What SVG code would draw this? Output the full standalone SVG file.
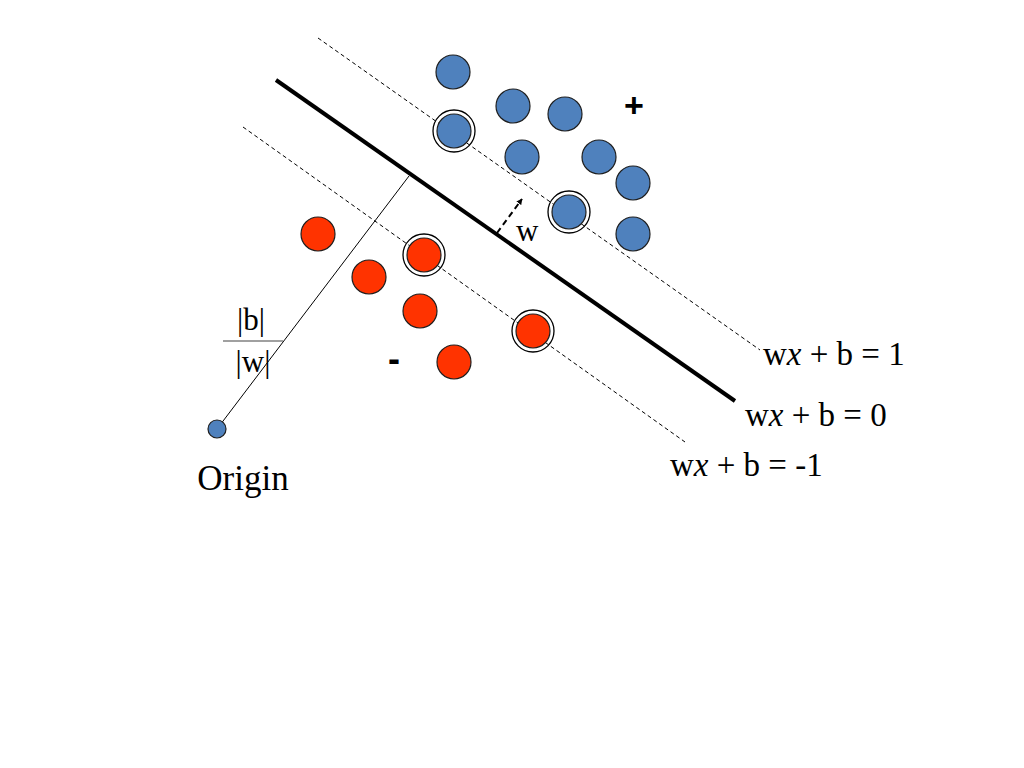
<svg xmlns="http://www.w3.org/2000/svg" width="1024" height="768" viewBox="0 0 1024 768">
<style>
.t{font-family:"Liberation Serif","Times New Roman",serif;font-size:31px;fill:#000}
.eq{font-size:33px}
.org{font-size:35px}
.pos{fill:#4f81bd;stroke:#1f1f1f;stroke-width:1.2}
.neg{fill:#ff3300;stroke:#1f1f1f;stroke-width:1.2}
.ring{fill:none;stroke:#000;stroke-width:1.3}
.dash{stroke:#000;stroke-width:1;stroke-dasharray:4,3;fill:none}
</style>
<defs>
<marker id="ah" viewBox="0 0 10 10" refX="9" refY="5" markerWidth="6" markerHeight="6" orient="auto" markerUnits="userSpaceOnUse">
<path d="M0,0 L10,5 L0,10 z" fill="#000"/>
</marker>
</defs>
<rect width="1024" height="768" fill="#fff"/>
<g id="connectors">
<line class="dash" x1="318" y1="38" x2="760" y2="350"/>
<line class="dash" x1="243" y1="127" x2="685" y2="442"/>
<line x1="276" y1="80" x2="735" y2="401" stroke="#000" stroke-width="4"/>
<line x1="217" y1="429" x2="409" y2="176" stroke="#000" stroke-width="1"/>
<line x1="497" y1="233" x2="522" y2="199" stroke="#000" stroke-width="2" stroke-dasharray="6,4" marker-end="url(#ah)"/>
<line x1="223" y1="341" x2="283" y2="341" stroke="#808080" stroke-width="1.5"/>
</g>
<g id="positive">
<circle class="pos" cx="453" cy="72" r="17"/>
<circle class="pos" cx="513" cy="106" r="17"/>
<circle class="pos" cx="565" cy="114" r="17"/>
<circle class="ring" cx="454" cy="131" r="21"/>
<circle class="pos" cx="454" cy="131" r="17"/>
<circle class="pos" cx="522" cy="157" r="17"/>
<circle class="pos" cx="599" cy="157" r="17"/>
<circle class="pos" cx="633" cy="183" r="17"/>
<circle class="ring" cx="569" cy="212" r="21"/>
<circle class="pos" cx="569" cy="212" r="17"/>
<circle class="pos" cx="633" cy="234" r="17"/>
</g>
<g id="negative">
<circle class="neg" cx="318" cy="234" r="17"/>
<circle class="ring" cx="424" cy="255" r="21"/>
<circle class="neg" cx="424" cy="255" r="17"/>
<circle class="neg" cx="369" cy="277" r="17"/>
<circle class="neg" cx="420" cy="311" r="17"/>
<circle class="neg" cx="454" cy="362" r="17"/>
<circle class="ring" cx="533" cy="331" r="21"/>
<circle class="neg" cx="533" cy="331" r="17"/>
</g>
<g id="origin">
<circle class="pos" cx="217" cy="429" r="9"/>
<text class="t org" x="243" y="490" text-anchor="middle">Origin</text>
</g>
<g id="labels">
<text x="634" y="117" text-anchor="middle" style="font-family:'Liberation Sans',Arial,sans-serif;font-size:34px;font-weight:bold">+</text>
<text x="394" y="371" text-anchor="middle" style="font-family:'Liberation Sans',Arial,sans-serif;font-size:36px;font-weight:bold">-</text>
<text class="t" x="516" y="241">w</text>
<text class="t" x="251" y="330" text-anchor="middle">|b|</text>
<text class="t" x="253" y="372" text-anchor="middle">|w|</text>
<text class="t eq" x="763" y="365">w<tspan font-style="italic">x</tspan> + b = 1</text>
<text class="t eq" x="745" y="426">w<tspan font-style="italic">x</tspan> + b = 0</text>
<text class="t eq" x="670" y="476">w<tspan font-style="italic">x</tspan> + b = -1</text>
</g>
</svg>
